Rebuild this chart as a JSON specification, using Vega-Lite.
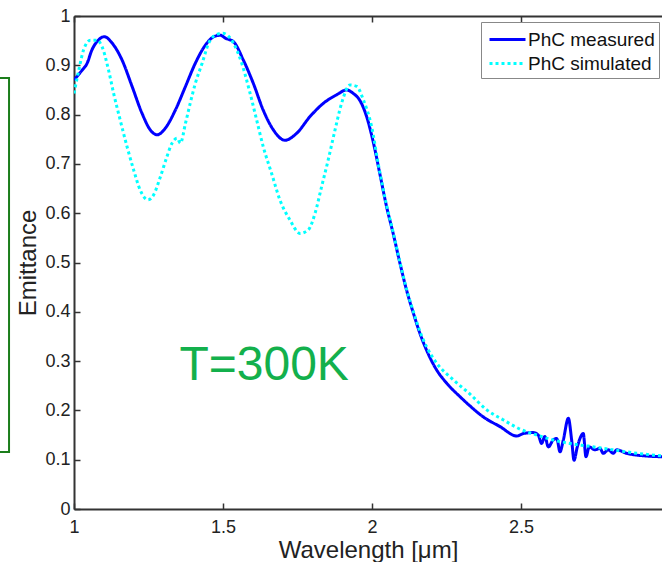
{
  "$schema": "https://vega.github.io/schema/vega-lite/v6.json",
  "width": 588,
  "height": 493,
  "autosize": {"type": "none"},
  "padding": {"left": 74, "top": 16, "right": 0, "bottom": 53},
  "background": "white",
  "config": {
    "view": {"stroke": null},
    "font": "Liberation Sans",
    "axis": {
      "domainColor": "#333333",
      "domainWidth": 2,
      "tickColor": "#333333",
      "tickWidth": 1.5,
      "tickSize": -6,
      "labelColor": "#222222",
      "titleColor": "#222222",
      "labelFont": "Liberation Sans",
      "titleFont": "Liberation Sans",
      "labelFontSize": 18,
      "titleFontSize": 24,
      "titleFontWeight": "normal",
      "labelFlush": false,
      "grid": false
    }
  },
  "datasets": {
    "curves": [
      {"series": "PhC measured", "wavelength": 1.000, "emittance": 0.870},
      {"series": "PhC measured", "wavelength": 1.027, "emittance": 0.890},
      {"series": "PhC measured", "wavelength": 1.044, "emittance": 0.904},
      {"series": "PhC measured", "wavelength": 1.060, "emittance": 0.931},
      {"series": "PhC measured", "wavelength": 1.077, "emittance": 0.948},
      {"series": "PhC measured", "wavelength": 1.102, "emittance": 0.958},
      {"series": "PhC measured", "wavelength": 1.128, "emittance": 0.945},
      {"series": "PhC measured", "wavelength": 1.161, "emittance": 0.911},
      {"series": "PhC measured", "wavelength": 1.195, "emittance": 0.857},
      {"series": "PhC measured", "wavelength": 1.228, "emittance": 0.803},
      {"series": "PhC measured", "wavelength": 1.256, "emittance": 0.769},
      {"series": "PhC measured", "wavelength": 1.279, "emittance": 0.759},
      {"series": "PhC measured", "wavelength": 1.306, "emittance": 0.772},
      {"series": "PhC measured", "wavelength": 1.340, "emittance": 0.809},
      {"series": "PhC measured", "wavelength": 1.374, "emittance": 0.857},
      {"series": "PhC measured", "wavelength": 1.407, "emittance": 0.904},
      {"series": "PhC measured", "wavelength": 1.441, "emittance": 0.941},
      {"series": "PhC measured", "wavelength": 1.469, "emittance": 0.958},
      {"series": "PhC measured", "wavelength": 1.491, "emittance": 0.961},
      {"series": "PhC measured", "wavelength": 1.508, "emittance": 0.955},
      {"series": "PhC measured", "wavelength": 1.535, "emittance": 0.948},
      {"series": "PhC measured", "wavelength": 1.568, "emittance": 0.911},
      {"series": "PhC measured", "wavelength": 1.602, "emittance": 0.863},
      {"series": "PhC measured", "wavelength": 1.635, "emittance": 0.809},
      {"series": "PhC measured", "wavelength": 1.669, "emittance": 0.769},
      {"series": "PhC measured", "wavelength": 1.708, "emittance": 0.748},
      {"series": "PhC measured", "wavelength": 1.747, "emittance": 0.762},
      {"series": "PhC measured", "wavelength": 1.792, "emittance": 0.796},
      {"series": "PhC measured", "wavelength": 1.837, "emittance": 0.823},
      {"series": "PhC measured", "wavelength": 1.881, "emittance": 0.840},
      {"series": "PhC measured", "wavelength": 1.915, "emittance": 0.850},
      {"series": "PhC measured", "wavelength": 1.937, "emittance": 0.843},
      {"series": "PhC measured", "wavelength": 1.960, "emittance": 0.828},
      {"series": "PhC measured", "wavelength": 1.982, "emittance": 0.796},
      {"series": "PhC measured", "wavelength": 2.004, "emittance": 0.745},
      {"series": "PhC measured", "wavelength": 2.027, "emittance": 0.678},
      {"series": "PhC measured", "wavelength": 2.049, "emittance": 0.613},
      {"series": "PhC measured", "wavelength": 2.071, "emittance": 0.559},
      {"series": "PhC measured", "wavelength": 2.094, "emittance": 0.498},
      {"series": "PhC measured", "wavelength": 2.116, "emittance": 0.444},
      {"series": "PhC measured", "wavelength": 2.139, "emittance": 0.397},
      {"series": "PhC measured", "wavelength": 2.161, "emittance": 0.356},
      {"series": "PhC measured", "wavelength": 2.184, "emittance": 0.321},
      {"series": "PhC measured", "wavelength": 2.217, "emittance": 0.282},
      {"series": "PhC measured", "wavelength": 2.251, "emittance": 0.255},
      {"series": "PhC measured", "wavelength": 2.295, "emittance": 0.228},
      {"series": "PhC measured", "wavelength": 2.329, "emittance": 0.209},
      {"series": "PhC measured", "wavelength": 2.373, "emittance": 0.187},
      {"series": "PhC measured", "wavelength": 2.430, "emittance": 0.167},
      {"series": "PhC measured", "wavelength": 2.486, "emittance": 0.148},
      {"series": "PhC measured", "wavelength": 2.508, "emittance": 0.153},
      {"series": "PhC measured", "wavelength": 2.541, "emittance": 0.155},
      {"series": "PhC measured", "wavelength": 2.558, "emittance": 0.150},
      {"series": "PhC measured", "wavelength": 2.569, "emittance": 0.133},
      {"series": "PhC measured", "wavelength": 2.580, "emittance": 0.147},
      {"series": "PhC measured", "wavelength": 2.592, "emittance": 0.126},
      {"series": "PhC measured", "wavelength": 2.608, "emittance": 0.140},
      {"series": "PhC measured", "wavelength": 2.620, "emittance": 0.143},
      {"series": "PhC measured", "wavelength": 2.631, "emittance": 0.116},
      {"series": "PhC measured", "wavelength": 2.642, "emittance": 0.140},
      {"series": "PhC measured", "wavelength": 2.659, "emittance": 0.184},
      {"series": "PhC measured", "wavelength": 2.670, "emittance": 0.140},
      {"series": "PhC measured", "wavelength": 2.678, "emittance": 0.099},
      {"series": "PhC measured", "wavelength": 2.689, "emittance": 0.126},
      {"series": "PhC measured", "wavelength": 2.709, "emittance": 0.153},
      {"series": "PhC measured", "wavelength": 2.718, "emittance": 0.106},
      {"series": "PhC measured", "wavelength": 2.729, "emittance": 0.126},
      {"series": "PhC measured", "wavelength": 2.748, "emittance": 0.120},
      {"series": "PhC measured", "wavelength": 2.765, "emittance": 0.123},
      {"series": "PhC measured", "wavelength": 2.776, "emittance": 0.113},
      {"series": "PhC measured", "wavelength": 2.793, "emittance": 0.120},
      {"series": "PhC measured", "wavelength": 2.810, "emittance": 0.113},
      {"series": "PhC measured", "wavelength": 2.821, "emittance": 0.120},
      {"series": "PhC measured", "wavelength": 2.854, "emittance": 0.113},
      {"series": "PhC measured", "wavelength": 2.910, "emittance": 0.108},
      {"series": "PhC measured", "wavelength": 2.975, "emittance": 0.106},
      {"series": "PhC simulated", "wavelength": 1.000, "emittance": 0.843},
      {"series": "PhC simulated", "wavelength": 1.016, "emittance": 0.890},
      {"series": "PhC simulated", "wavelength": 1.032, "emittance": 0.931},
      {"series": "PhC simulated", "wavelength": 1.055, "emittance": 0.951},
      {"series": "PhC simulated", "wavelength": 1.077, "emittance": 0.951},
      {"series": "PhC simulated", "wavelength": 1.094, "emittance": 0.938},
      {"series": "PhC simulated", "wavelength": 1.116, "emittance": 0.890},
      {"series": "PhC simulated", "wavelength": 1.133, "emittance": 0.843},
      {"series": "PhC simulated", "wavelength": 1.155, "emittance": 0.789},
      {"series": "PhC simulated", "wavelength": 1.178, "emittance": 0.735},
      {"series": "PhC simulated", "wavelength": 1.200, "emittance": 0.688},
      {"series": "PhC simulated", "wavelength": 1.222, "emittance": 0.647},
      {"series": "PhC simulated", "wavelength": 1.248, "emittance": 0.627},
      {"series": "PhC simulated", "wavelength": 1.267, "emittance": 0.637},
      {"series": "PhC simulated", "wavelength": 1.290, "emittance": 0.674},
      {"series": "PhC simulated", "wavelength": 1.312, "emittance": 0.715},
      {"series": "PhC simulated", "wavelength": 1.329, "emittance": 0.742},
      {"series": "PhC simulated", "wavelength": 1.346, "emittance": 0.752},
      {"series": "PhC simulated", "wavelength": 1.357, "emittance": 0.742},
      {"series": "PhC simulated", "wavelength": 1.374, "emittance": 0.782},
      {"series": "PhC simulated", "wavelength": 1.390, "emittance": 0.823},
      {"series": "PhC simulated", "wavelength": 1.407, "emittance": 0.863},
      {"series": "PhC simulated", "wavelength": 1.430, "emittance": 0.904},
      {"series": "PhC simulated", "wavelength": 1.452, "emittance": 0.945},
      {"series": "PhC simulated", "wavelength": 1.474, "emittance": 0.961},
      {"series": "PhC simulated", "wavelength": 1.499, "emittance": 0.965},
      {"series": "PhC simulated", "wavelength": 1.535, "emittance": 0.945},
      {"series": "PhC simulated", "wavelength": 1.563, "emittance": 0.904},
      {"series": "PhC simulated", "wavelength": 1.591, "emittance": 0.843},
      {"series": "PhC simulated", "wavelength": 1.613, "emittance": 0.789},
      {"series": "PhC simulated", "wavelength": 1.635, "emittance": 0.735},
      {"series": "PhC simulated", "wavelength": 1.663, "emittance": 0.681},
      {"series": "PhC simulated", "wavelength": 1.691, "emittance": 0.627},
      {"series": "PhC simulated", "wavelength": 1.725, "emittance": 0.586},
      {"series": "PhC simulated", "wavelength": 1.758, "emittance": 0.559},
      {"series": "PhC simulated", "wavelength": 1.786, "emittance": 0.566},
      {"series": "PhC simulated", "wavelength": 1.809, "emittance": 0.600},
      {"series": "PhC simulated", "wavelength": 1.831, "emittance": 0.654},
      {"series": "PhC simulated", "wavelength": 1.853, "emittance": 0.708},
      {"series": "PhC simulated", "wavelength": 1.876, "emittance": 0.769},
      {"series": "PhC simulated", "wavelength": 1.898, "emittance": 0.823},
      {"series": "PhC simulated", "wavelength": 1.926, "emittance": 0.860},
      {"series": "PhC simulated", "wavelength": 1.949, "emittance": 0.857},
      {"series": "PhC simulated", "wavelength": 1.971, "emittance": 0.830},
      {"series": "PhC simulated", "wavelength": 1.999, "emittance": 0.775},
      {"series": "PhC simulated", "wavelength": 2.021, "emittance": 0.700},
      {"series": "PhC simulated", "wavelength": 2.049, "emittance": 0.616},
      {"series": "PhC simulated", "wavelength": 2.071, "emittance": 0.561},
      {"series": "PhC simulated", "wavelength": 2.094, "emittance": 0.500},
      {"series": "PhC simulated", "wavelength": 2.116, "emittance": 0.446},
      {"series": "PhC simulated", "wavelength": 2.139, "emittance": 0.400},
      {"series": "PhC simulated", "wavelength": 2.161, "emittance": 0.360},
      {"series": "PhC simulated", "wavelength": 2.184, "emittance": 0.328},
      {"series": "PhC simulated", "wavelength": 2.217, "emittance": 0.296},
      {"series": "PhC simulated", "wavelength": 2.273, "emittance": 0.262},
      {"series": "PhC simulated", "wavelength": 2.329, "emittance": 0.233},
      {"series": "PhC simulated", "wavelength": 2.385, "emittance": 0.201},
      {"series": "PhC simulated", "wavelength": 2.440, "emittance": 0.181},
      {"series": "PhC simulated", "wavelength": 2.497, "emittance": 0.162},
      {"series": "PhC simulated", "wavelength": 2.553, "emittance": 0.150},
      {"series": "PhC simulated", "wavelength": 2.608, "emittance": 0.140},
      {"series": "PhC simulated", "wavelength": 2.664, "emittance": 0.133},
      {"series": "PhC simulated", "wavelength": 2.720, "emittance": 0.128},
      {"series": "PhC simulated", "wavelength": 2.776, "emittance": 0.123},
      {"series": "PhC simulated", "wavelength": 2.832, "emittance": 0.118},
      {"series": "PhC simulated", "wavelength": 2.888, "emittance": 0.113},
      {"series": "PhC simulated", "wavelength": 2.975, "emittance": 0.108}
    ],
    "annotation": [{"wavelength": 1.638, "emittance": 0.262, "label": "T=300K"}],
    "frame": [{"x1": 0.3, "x2": 0.782, "y1": 0.1156, "y2": 0.874}]
  },
  "layer": [
    {
      "data": {"name": "curves"},
      "mark": {"type": "line", "strokeWidth": 3, "interpolate": "monotone", "clip": true},
      "encoding": {
        "x": {
          "field": "wavelength", "type": "quantitative",
          "scale": {"domain": [1, 2.9732], "nice": false, "zero": false},
          "axis": {"orient": "bottom", "values": [1, 1.5, 2, 2.5], "format": "~g", "title": "Wavelength [μm]", "labelPadding": 15, "titlePadding": 2}
        },
        "y": {
          "field": "emittance", "type": "quantitative",
          "scale": {"domain": [0, 1], "nice": false},
          "axis": {"orient": "left", "values": [0, 0.1, 0.2, 0.3, 0.4, 0.5, 0.6, 0.7, 0.8, 0.9, 1], "format": "~g", "title": "Emittance", "labelPadding": 10, "titlePadding": 4}
        },
        "color": {
          "field": "series", "type": "nominal",
          "scale": {"domain": ["PhC measured", "PhC simulated"], "range": ["#0000ff", "#00ffff"]},
          "legend": {
            "title": null, "orient": "none", "legendX": 407, "legendY": 6,
            "fillColor": "white", "strokeColor": "#888888", "padding": 4, "rowPadding": 0,
            "symbolType": "M-0.75,0H2.25", "symbolSize": 576, "symbolStrokeWidth": 3,
            "labelFontSize": 19, "labelColor": "#111111", "labelOffset": 16, "labelFont": "Liberation Sans",
            "labelLimit": 300
          }
        },
        "strokeDash": {
          "field": "series", "type": "nominal",
          "scale": {"domain": ["PhC measured", "PhC simulated"], "range": [[1, 0], [3, 3]]},
          "legend": {
            "title": null, "orient": "none", "legendX": 407, "legendY": 6,
            "fillColor": "white", "strokeColor": "#888888", "padding": 4, "rowPadding": 0,
            "symbolType": "M-0.75,0H2.25", "symbolSize": 576, "symbolStrokeWidth": 3,
            "labelFontSize": 19, "labelColor": "#111111", "labelOffset": 16, "labelFont": "Liberation Sans",
            "labelLimit": 300
          }
        }
      }
    },
    {
      "data": {"name": "annotation"},
      "mark": {"type": "text", "fontSize": 48, "color": "#13b04c", "align": "center", "baseline": "alphabetic", "font": "Liberation Sans"},
      "encoding": {
        "x": {
          "field": "wavelength", "type": "quantitative",
          "scale": {"domain": [1, 2.9732], "nice": false, "zero": false},
          "axis": {"orient": "top", "values": [1, 1.5, 2, 2.5], "labels": false, "title": null}
        },
        "y": {"field": "emittance", "type": "quantitative", "scale": {"domain": [0, 1], "nice": false}},
        "text": {"field": "label"}
      }
    },
    {
      "data": {"name": "frame"},
      "mark": {"type": "rect", "fill": null, "stroke": "#1b7d1b", "strokeWidth": 2, "clip": false},
      "encoding": {
        "x": {"field": "x1", "type": "quantitative", "scale": {"domain": [1, 2.9732], "nice": false, "zero": false}, "axis": null},
        "x2": {"field": "x2"},
        "y": {"field": "y1", "type": "quantitative", "scale": {"domain": [0, 1], "nice": false}},
        "y2": {"field": "y2"}
      }
    }
  ],
  "resolve": {"axis": {"x": "independent"}}
}
